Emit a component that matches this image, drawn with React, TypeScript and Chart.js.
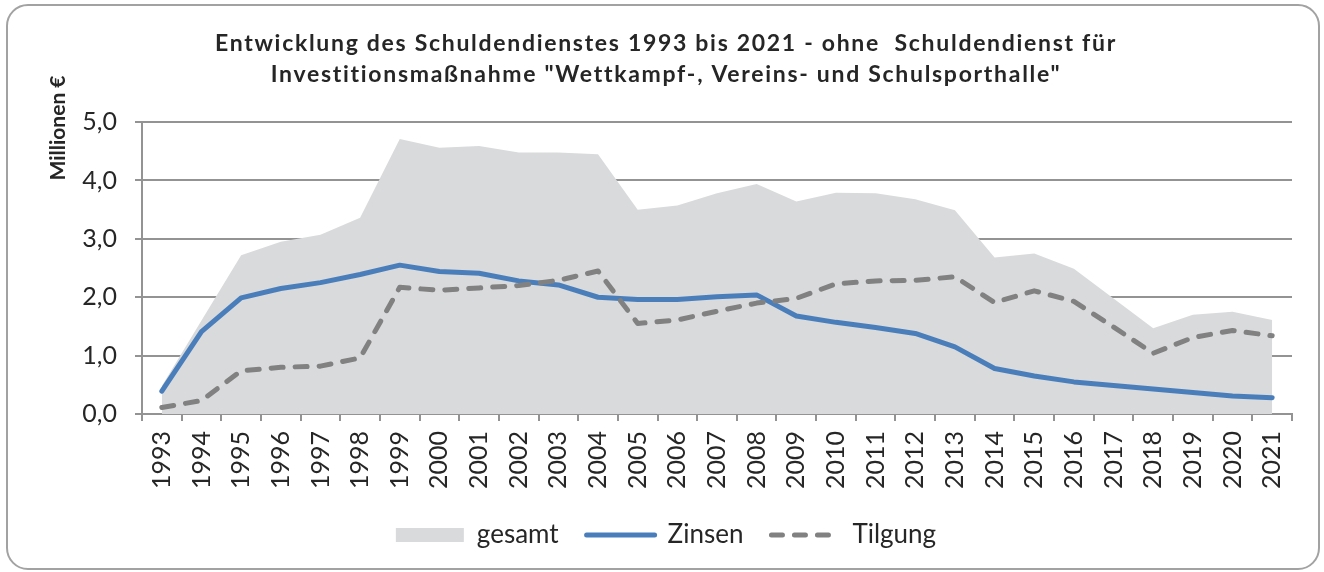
import React, { useEffect, useRef } from "react";
import { Chart, registerables } from "chart.js";

Chart.register(...registerables);

const years = ["1993","1994","1995","1996","1997","1998","1999","2000","2001","2002","2003","2004","2005","2006","2007","2008","2009","2010","2011","2012","2013","2014","2015","2016","2017","2018","2019","2020","2021"];
const gesamt = [0.48, 1.6, 2.72, 2.95, 3.07, 3.36, 4.71, 4.56, 4.59, 4.48, 4.48, 4.45, 3.5, 3.57, 3.78, 3.94, 3.64, 3.79, 3.78, 3.68, 3.49, 2.68, 2.75, 2.49, 1.98, 1.47, 1.7, 1.75, 1.61];
const zinsen = [0.39, 1.41, 1.99, 2.15, 2.25, 2.39, 2.55, 2.44, 2.41, 2.28, 2.21, 2.0, 1.96, 1.96, 2.01, 2.04, 1.68, 1.57, 1.48, 1.38, 1.15, 0.78, 0.65, 0.55, 0.49, 0.43, 0.37, 0.31, 0.28];
const tilgung = [0.11, 0.23, 0.74, 0.8, 0.82, 0.96, 2.17, 2.12, 2.16, 2.2, 2.29, 2.45, 1.55, 1.61, 1.76, 1.9, 1.98, 2.23, 2.28, 2.29, 2.35, 1.91, 2.11, 1.93, 1.49, 1.04, 1.31, 1.43, 1.34];
const seriesNames = ["gesamt", "Zinsen", "Tilgung"];
const titleLines = [
  "Entwicklung des Schuldendienstes 1993 bis 2021 - ohne  Schuldendienst für",
  "Investitionsmaßnahme \"Wettkampf-, Vereins- und Schulsporthalle\"",
];
const yAxisTitle = "Millionen €";

const AREA = "#d9dadc";
const BLUE = "#4a7ebb";
const DASH = "#818182";
const GRID = "#939393";
const TXT = "#262626";

const yTitlePlugin = {
  id: "yTitleTop",
  afterDraw(chart: any) {
    const ctx = chart.ctx;
    ctx.save();
    ctx.translate(58, 128);
    ctx.rotate(-Math.PI / 2);
    ctx.font = "bold 21px Lato";
    ctx.fillStyle = TXT;
    ctx.textAlign = "center";
    ctx.textBaseline = "middle";
    ctx.fillText(yAxisTitle, 0, 0);
    ctx.restore();
  },
};

// widen the title's letter spacing like the reference
const titleSpacingPlugin = {
  id: "titleSpacing",
  beforeDraw(chart: any) {
    const tb = chart.titleBlock;
    if (!tb || tb.__spaced) return;
    const orig = tb.draw.bind(tb);
    tb.draw = (area: any) => {
      const ctx = chart.ctx;
      ctx.save();
      try {
        (ctx as any).letterSpacing = "1.7px";
      } catch (e) {}
      orig(area);
      ctx.restore();
    };
    tb.__spaced = true;
  },
};

export default function App() {
  const ref = useRef<HTMLCanvasElement>(null);
  useEffect(() => {
    if (!ref.current) return;
    Chart.defaults.font.family = "Lato";
    const chart = new Chart(ref.current, {
      type: "line",
      data: {
        labels: years,
        datasets: [
          {
            label: seriesNames[0],
            data: gesamt,
            fill: "origin",
            backgroundColor: AREA,
            borderColor: AREA,
            borderWidth: 0,
            pointRadius: 0,
            tension: 0,
            order: 3,
          },
          {
            label: seriesNames[1],
            data: zinsen,
            fill: false,
            borderColor: BLUE,
            backgroundColor: BLUE,
            borderWidth: 5,
            pointRadius: 0,
            borderJoinStyle: "round",
            borderCapStyle: "round",
            tension: 0,
            order: 2,
          },
          {
            label: seriesNames[2],
            data: tilgung,
            fill: false,
            borderColor: DASH,
            backgroundColor: DASH,
            borderWidth: 5,
            borderDash: [12, 12],
            borderCapStyle: "round",
            borderJoinStyle: "round",
            pointRadius: 0,
            tension: 0,
            order: 1,
          },
        ],
      },
      options: {
        responsive: false,
        animation: false,
        layout: { padding: { left: 40, right: 32, top: 0, bottom: 14 } },
        scales: {
          x: {
            offset: true,
            grid: {
              offset: true,
              display: true,
              drawOnChartArea: false,
              drawTicks: true,
              tickLength: 7,
              color: GRID,
              lineWidth: 2,
            },
            border: { display: true, color: GRID, width: 2 },
            ticks: {
              autoSkip: false,
              minRotation: 90,
              maxRotation: 90,
              padding: 10,
              color: TXT,
              font: { family: "Lato", size: 25 },
            },
            afterFit: (scale: any) => {
              scale.height = 80;
            },
          },
          y: {
            min: 0,
            max: 5,
            ticks: {
              stepSize: 1,
              padding: 18,
              color: TXT,
              font: { family: "Lato", size: 25 },
              callback: (v: any) => Number(v).toFixed(1).replace(".", ","),
            },
            grid: {
              color: GRID,
              lineWidth: 2,
              tickLength: 7,
              drawTicks: true,
            },
            border: { display: true, color: GRID, width: 2 },
            afterFit: (scale: any) => {
              scale.width = 102;
            },
          },
        },
        plugins: {
          filler: { drawTime: "beforeDatasetsDraw" },
          tooltip: { enabled: false },
          title: {
            display: true,
            text: titleLines,
            color: TXT,
            font: { family: "Lato", size: 23, weight: "bold", lineHeight: 1.35 },
            padding: { top: 28.5, bottom: 31.5 },
          },
          legend: {
            display: true,
            position: "bottom",
            labels: {
              usePointStyle: true,
              pointStyleWidth: 68,
              boxHeight: 14,
              padding: 28,
              color: TXT,
              font: { family: "Lato", size: 26 },
              generateLabels: () => [
                {
                  text: seriesNames[0],
                  fillStyle: AREA,
                  strokeStyle: AREA,
                  lineWidth: 0,
                  pointStyle: "rect",
                  hidden: false,
                  datasetIndex: 0,
                  fontColor: TXT,
                },
                {
                  text: seriesNames[1],
                  fillStyle: "rgba(0,0,0,0)",
                  strokeStyle: BLUE,
                  lineWidth: 5,
                  lineCap: "round",
                  pointStyle: "line",
                  hidden: false,
                  datasetIndex: 1,
                  fontColor: TXT,
                },
                {
                  text: seriesNames[2],
                  fillStyle: "rgba(0,0,0,0)",
                  strokeStyle: DASH,
                  lineWidth: 5,
                  lineCap: "round",
                  lineDash: [11, 12],
                  pointStyle: "line",
                  hidden: false,
                  datasetIndex: 2,
                  fontColor: TXT,
                },
              ],
            },
          },
        },
      },
      plugins: [titleSpacingPlugin, yTitlePlugin],
    } as any);
    return () => chart.destroy();
  }, []);

  return (
    <div style={{ position: "fixed", left: 0, top: 0, width: 1324, height: 572, background: "#fff" }}>
      <canvas ref={ref} width={1324} height={572} style={{ display: "block", width: 1324, height: 572 }} />
      <div
        style={{
          position: "absolute",
          left: 6,
          top: 4,
          width: 1314,
          height: 566,
          boxSizing: "border-box",
          border: "2px solid #a2a2a2",
          borderRadius: 22,
          pointerEvents: "none",
        }}
      />
    </div>
  );
}
